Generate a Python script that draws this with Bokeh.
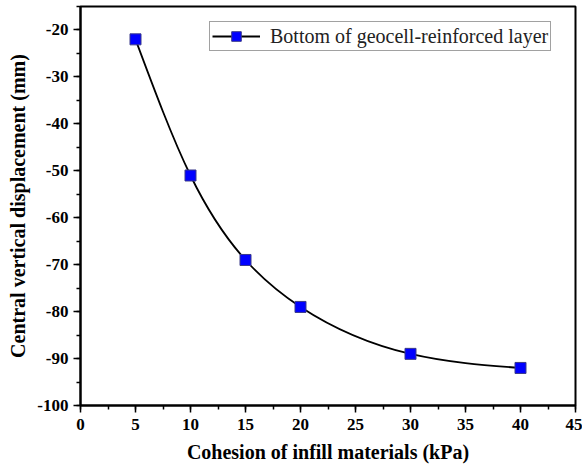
import numpy as np
from bokeh.plotting import figure
from bokeh.models import (SingleIntervalTicker, Range1d, Legend, LegendItem,
                          ColumnDataSource, CustomJSTickFormatter)
from bokeh.embed import file_html
from bokeh.resources import INLINE

# Data
cohesion = [5, 10, 15, 20, 30, 40]
displacement = [-22, -51, -69, -79, -89, -92]
series_label = "Bottom of geocell-reinforced layer"
x_title = "Cohesion of infill materials (kPa)"
y_title = "Central vertical displacement (mm)"

FONT = "Liberation Serif"

p = figure(width=582, height=472, output_backend="svg", toolbar_location=None,
           x_range=Range1d(0, 45), y_range=Range1d(-100, -15),
           min_border_left=80, min_border_right=7, min_border_top=6, min_border_bottom=67)
p.xgrid.visible = False
p.ygrid.visible = False
p.outline_line_color = "black"
p.outline_line_width = 2
p.background_fill_color = "white"
p.border_fill_color = "white"

p.xaxis.ticker = SingleIntervalTicker(interval=5, num_minor_ticks=2)
p.yaxis.ticker = SingleIntervalTicker(interval=10, num_minor_ticks=2)
p.xaxis.formatter = CustomJSTickFormatter(code="return tick.toFixed(0);")
p.yaxis.formatter = CustomJSTickFormatter(code="return tick.toFixed(0);")

for ax in (p.xaxis[0], p.yaxis[0]):
    ax.axis_line_width = 2
    ax.axis_line_color = "black"
    ax.major_tick_in = 0
    ax.major_tick_out = 7
    ax.minor_tick_in = 0
    ax.minor_tick_out = 4
    ax.major_tick_line_width = 1.5
    ax.minor_tick_line_width = 1.5
    ax.major_tick_line_color = "black"
    ax.minor_tick_line_color = "black"
    ax.major_label_text_font = FONT
    ax.major_label_text_font_style = "bold"
    ax.major_label_text_font_size = "17px"
    ax.major_label_text_color = "black"
    ax.axis_label_text_font = FONT
    ax.axis_label_text_font_style = "bold"
    ax.axis_label_text_font_size = "20px"
    ax.axis_label_text_color = "black"

p.xaxis.axis_label = x_title
p.yaxis.axis_label = y_title
p.xaxis.major_label_standoff = 6
p.xaxis.axis_label_standoff = 8
p.yaxis.major_label_standoff = 5
p.yaxis.axis_label_standoff = 5

# Smooth curve through data: natural cubic spline drawn as Bezier segments
xs = np.array(cohesion, dtype=float)
ys = np.array(displacement, dtype=float)
n = len(xs)
h = np.diff(xs)
A = np.zeros((n, n))
b = np.zeros(n)
A[0, 0] = 1
A[-1, -1] = 1
for i in range(1, n - 1):
    A[i, i - 1] = h[i - 1]
    A[i, i] = 2 * (h[i - 1] + h[i])
    A[i, i + 1] = h[i]
    b[i] = 6 * ((ys[i + 1] - ys[i]) / h[i] - (ys[i] - ys[i - 1]) / h[i - 1])
M = np.linalg.solve(A, b)
d = np.zeros(n)
for i in range(n - 1):
    d[i] = (ys[i + 1] - ys[i]) / h[i] - h[i] * (2 * M[i] + M[i + 1]) / 6
d[-1] = (ys[-1] - ys[-2]) / h[-1] + h[-1] * (M[-2] + 2 * M[-1]) / 6

seg = ColumnDataSource(dict(
    x0=xs[:-1], y0=ys[:-1], x1=xs[1:], y1=ys[1:],
    cx0=xs[:-1] + h / 3, cy0=ys[:-1] + h * d[:-1] / 3,
    cx1=xs[1:] - h / 3, cy1=ys[1:] - h * d[1:] / 3,
))
p.bezier(x0="x0", y0="y0", x1="x1", y1="y1", cx0="cx0", cy0="cy0", cx1="cx1", cy1="cy1",
         source=seg, line_color="black", line_width=1.8)

# single-point line: draws nothing in the plot, provides the legend's line
leg_line = p.line(cohesion[:1], displacement[:1], line_color="black", line_width=1.8)

pts = p.scatter(cohesion, displacement, marker="square", size=11,
                fill_color="#0000FF", line_color="#3a3a8a", line_width=1)

legend = Legend(items=[LegendItem(label=series_label, renderers=[leg_line, pts])],
                location=(129, 354), orientation="vertical")
legend.label_text_font = FONT
legend.label_text_font_size = "20px"
legend.label_text_color = "#222222"
legend.glyph_width = 48
legend.glyph_height = 24
legend.label_height = 24
legend.label_standoff = 10
legend.padding = 2
legend.margin = 0
legend.spacing = 0
legend.border_line_color = "#444444"
legend.border_line_width = 1
legend.background_fill_color = "white"
legend.background_fill_alpha = 1
p.add_layout(legend, "center")

open("out.html", "w").write(file_html(p, INLINE))
